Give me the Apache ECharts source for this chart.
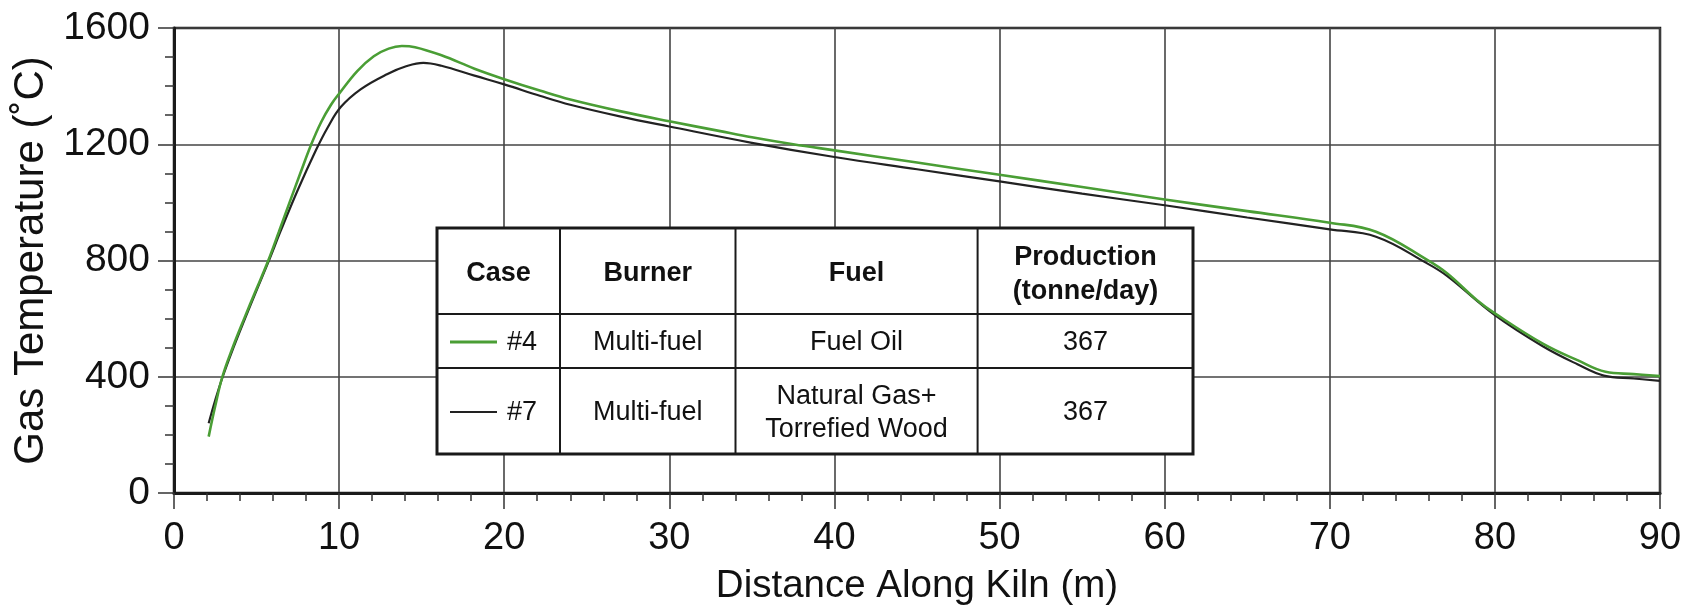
<!DOCTYPE html>
<html>
<head>
<meta charset="utf-8">
<script src="https://cdn.jsdelivr.net/npm/echarts@6/dist/echarts.min.js"></script>
<style>
html,body{margin:0;padding:0;background:#fff;}
#chart{width:1690px;height:611px;}
</style>
</head>
<body>
<div id="chart"></div>
<script>
// ---- Data ----
var case4 = [
  [2.1,194],[2.5,300],[2.93,400],[3.55,500],[4.25,600],[4.98,700],[5.71,800],[6.36,900],
  [7.0,1000],[7.65,1100],[8.28,1195],[8.9,1275],[9.5,1335],[10.0,1374],[11.1,1452],[12.1,1503],
  [13.0,1529],[13.8,1538],[14.6,1534],[16.2,1506],[18.2,1460],[20.0,1424],[22.2,1384],
  [24.0,1354],[27.0,1314],[30.0,1279],[33.0,1246],[35.0,1224],[37.5,1200],[40.0,1179],
  [45.0,1137],[50.0,1095],[55.0,1053],[60.0,1010],[65.0,970],[70.0,930],[72.8,899],
  [75.9,802],[77.1,756],[78.9,664],[80.0,618],[82.9,514],[85.0,457],[86.7,417],
  [88.4,409],[90.0,402]
];
var case7 = [
  [2.1,240],[2.5,320],[2.95,400],[3.6,500],[4.3,600],[5.02,700],[5.75,800],[6.45,900],
  [7.47,1039],[8.6,1180],[9.3,1257],[10.1,1328],[11.3,1389],[12.9,1441],[14.1,1469],
  [15.1,1480],[16.2,1470],[18.2,1436],[20.0,1406],[22.2,1366],[24.0,1336],[27.0,1296],
  [30.0,1261],[35.0,1205],[40.0,1156],[45.0,1114],[50.0,1072],[55.0,1030],[60.0,990],
  [65.0,948],[70.0,907],[72.8,882],[75.9,790],[77.1,747],[80.0,612],[82.9,505],
  [85.0,443],[86.6,404],[88.4,394],[90.0,386]
];
var xTicks = [0,10,20,30,40,50,60,70,80,90];
var yTicks = [0,400,800,1200,1600];
var tableHeader = ['Case','Burner','Fuel','Production\n(tonne/day)'];
var caseLabels = ['#4','#7'];
var burners = ['Multi-fuel','Multi-fuel'];
var fuels = ['Fuel Oil','Natural Gas+\nTorrefied Wood'];
var production = ['367','367'];
var xTitle = 'Distance Along Kiln (m)';
var yTitle = 'Gas Temperature (\u02DAC)';

// ---- Styles / layout ----
var GREEN = '#4a9e35';
var BLACK = '#222222';
var FONT = 'Liberation Sans, Arial, Helvetica, sans-serif';

var chart = echarts.init(document.getElementById('chart'), null, {renderer:'canvas'});

// Table layout (pixels)
var tX = 437, tY = 228, tW = 756, tH = 226;
var colX = [437, 560, 735.5, 977.6, 1193];
var rowY = [228, 314, 368, 454];
var colC = [498.5, 647.7, 856.5, 1085.6];
var rowC = [274, 343, 413];

var graphics = [];
graphics.push({type:'rect', shape:{x:tX, y:tY, width:tW, height:tH}, style:{fill:'#fff', stroke:'#1a1a1a', lineWidth:3}, z:100});
for (var i = 1; i < colX.length - 1; i++) {
  graphics.push({type:'line', shape:{x1:colX[i], y1:tY, x2:colX[i], y2:tY+tH}, style:{stroke:'#1a1a1a', lineWidth:2}, z:101});
}
for (var j = 1; j < rowY.length - 1; j++) {
  graphics.push({type:'line', shape:{x1:tX, y1:rowY[j], x2:tX+tW, y2:rowY[j]}, style:{stroke:'#1a1a1a', lineWidth:2}, z:101});
}
function txt(s, x, y, bold, lh) {
  return {type:'text', x:x, y:y, z:102, style:{text:s, fill:'#111', align:'center', verticalAlign:'middle',
    font:(bold?'bold ':'') + '27px ' + FONT, lineHeight: lh || 33}};
}
tableHeader.forEach(function(h, k){ graphics.push(txt(h, colC[k], rowC[0] + (h.indexOf('\n')>=0?1:0), true, 34)); });
var lineColors = [GREEN, BLACK];
for (var r = 0; r < 2; r++) {
  var yc = rowC[r+1];
  graphics.push({type:'line', shape:{x1:450, y1:yc-1, x2:497, y2:yc-1}, style:{stroke:lineColors[r], lineWidth:r===0?3:2}, z:102});
  graphics.push({type:'text', x:507, y:yc, z:102, style:{text:caseLabels[r], fill:'#111', align:'left', verticalAlign:'middle', font:'27px ' + FONT}});
  graphics.push(txt(burners[r], colC[1], yc));
  graphics.push(txt(fuels[r], colC[2], yc));
  graphics.push(txt(production[r], colC[3], yc));
}

var option = {
  backgroundColor: '#fff',
  animation: false,
  grid: {left:174, right:30, top:28, bottom:118, show:true, borderColor:'#1a1a1a', borderWidth:2.5, backgroundColor:'transparent'},
  xAxis: {
    type:'value', min:xTicks[0], max:xTicks[xTicks.length-1], interval:10,
    name:xTitle, nameLocation:'middle', nameGap:74,
    nameTextStyle:{fontFamily:FONT, fontSize:38.5, color:'#111'},
    axisLine:{show:true, lineStyle:{color:'#1a1a1a', width:3}},
    axisTick:{show:true, length:16, lineStyle:{color:'#333', width:1.5}},
    minorTick:{show:true, splitNumber:5, length:8, lineStyle:{color:'#333', width:1.5}},
    splitLine:{show:true, lineStyle:{color:'#444', width:1.6}},
    axisLabel:{fontFamily:FONT, fontSize:38, color:'#111', margin:27, formatter:function(v){return String(v);}}
  },
  yAxis: {
    type:'value', min:yTicks[0], max:yTicks[yTicks.length-1], interval:400,
    name:yTitle, nameLocation:'middle', nameGap:122, nameRotate:90,
    nameTextStyle:{fontFamily:FONT, fontSize:42, color:'#111'},
    axisLine:{show:true, lineStyle:{color:'#1a1a1a', width:3}},
    axisTick:{show:true, length:16, lineStyle:{color:'#333', width:1.5}},
    minorTick:{show:true, splitNumber:4, length:9, lineStyle:{color:'#333', width:1.5}},
    splitLine:{show:true, lineStyle:{color:'#444', width:1.6}},
    axisLabel:{fontFamily:FONT, fontSize:39, color:'#111', margin:24, formatter:function(v){return String(v);}}
  },
  series: [
    {name:'#7', type:'line', data:case7, showSymbol:false, smooth:0.4, lineStyle:{color:BLACK, width:2.2}, z:3},
    {name:'#4', type:'line', data:case4, showSymbol:false, smooth:0.4, lineStyle:{color:GREEN, width:2.6}, z:4}
  ],
  graphic: graphics
};
chart.setOption(option);
</script>
</body>
</html>
